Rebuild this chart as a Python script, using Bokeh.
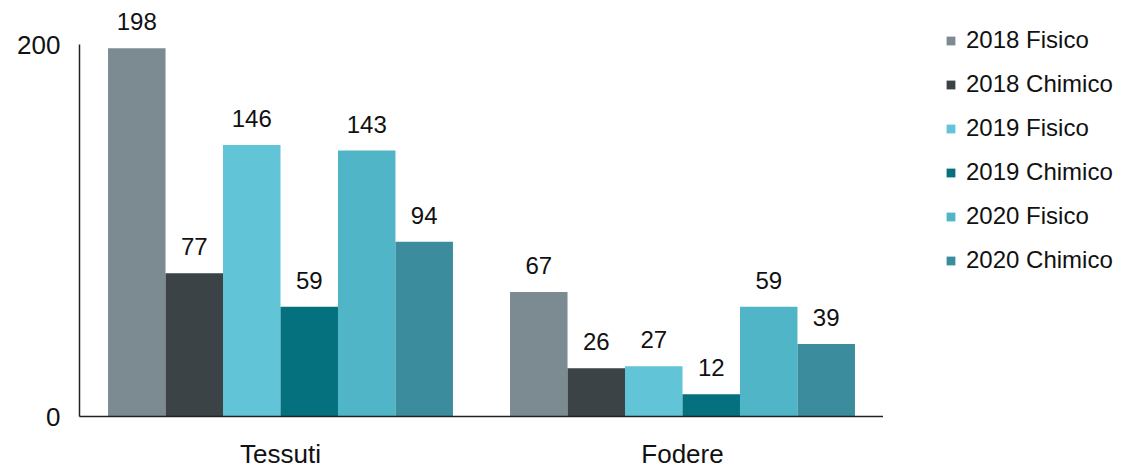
from bokeh.plotting import figure
from bokeh.layouts import row
from bokeh.models import ColumnDataSource, FactorRange, Range1d, Legend, LegendItem, FixedTicker, LabelSet
from bokeh.transform import dodge
from bokeh.core.properties import value
from bokeh.embed import file_html
from bokeh.resources import INLINE

categories = ["Tessuti", "Fodere"]
series = ["2018 Fisico", "2018 Chimico", "2019 Fisico", "2019 Chimico", "2020 Fisico", "2020 Chimico"]
v2018_fisico = [198, 67]
v2018_chimico = [77, 26]
v2019_fisico = [146, 27]
v2019_chimico = [59, 12]
v2020_fisico = [143, 59]
v2020_chimico = [94, 39]
colors = ["#7b8b91", "#3b4346", "#62c4d7", "#05717f", "#4fb5c7", "#3b8d9d"]
values = [v2018_fisico, v2018_chimico, v2019_fisico, v2019_chimico, v2020_fisico, v2020_chimico]

FONT = "Liberation Sans"

p = figure(x_range=FactorRange(*categories, range_padding=0), y_range=Range1d(0, 223.7),
           width=883, height=471, output_backend="svg", toolbar_location=None,
           min_border_left=79, min_border_right=0, min_border_top=0, min_border_bottom=54)
p.outline_line_color = None
p.background_fill_color = "white"
p.border_fill_color = "white"
p.xgrid.grid_line_color = None
p.ygrid.grid_line_color = None

# legend-only figure to the right
pl = figure(x_range=Range1d(0, 1), y_range=Range1d(0, 1), width=242, height=471,
            output_backend="svg", toolbar_location=None, x_axis_type=None, y_axis_type=None,
            min_border=0)
pl.outline_line_color = None
pl.grid.visible = False
pl.background_fill_color = "white"
pl.border_fill_color = "white"

w = 0.143
items = []
for i, (name, vals, col) in enumerate(zip(series, values, colors)):
    src = ColumnDataSource(dict(cat=categories, val=vals, lab=[str(v) for v in vals]))
    off = (i - 2.5) * w
    p.vbar(x=dodge("cat", off, range=p.x_range), top="val", width=w, source=src,
           fill_color=col, line_color=None)
    lbl = LabelSet(x=dodge("cat", off, range=p.x_range), y="val", text="lab", source=src,
                   text_align="center", text_baseline="bottom", y_offset=18,
                   text_font=value(FONT), text_font_size="24px", text_color="#111111")
    p.add_layout(lbl)
    # legend proxy (not shown in the plot area)
    dummy = pl.vbar(x=[0], top=[0], width=0, fill_color=col, line_color=None, visible=False)
    items.append(LegendItem(label=name, renderers=[dummy]))

legend = Legend(items=items, location=(62, 142), orientation="vertical",
                label_text_font=FONT, label_text_font_size="24px", label_text_color="#111111",
                glyph_width=11, glyph_height=11, label_height=20, spacing=16,
                label_standoff=10, border_line_color=None, background_fill_alpha=0,
                padding=0, margin=0)
pl.add_layout(legend)

p.yaxis.ticker = FixedTicker(ticks=[0, 200])
p.yaxis.bounds = (0, 200)
p.yaxis.major_tick_line_color = None
p.yaxis.minor_tick_line_color = None
p.yaxis.axis_line_color = "#222222"
p.yaxis.axis_line_width = 1.5
p.yaxis.major_label_text_font = FONT
p.yaxis.major_label_text_font_size = "26px"
p.yaxis.major_label_text_color = "#111111"
p.yaxis.major_label_standoff = 13

p.xaxis.major_tick_line_color = None
p.xaxis.minor_tick_line_color = None
p.xaxis.axis_line_color = "#222222"
p.xaxis.axis_line_width = 1.5
p.xaxis.major_label_text_font = FONT
p.xaxis.major_label_text_font_size = "26px"
p.xaxis.major_label_text_color = "#111111"
p.xaxis.major_label_standoff = 16

layout = row(p, pl, spacing=0)
open("out.html", "w").write(file_html(layout, INLINE))
